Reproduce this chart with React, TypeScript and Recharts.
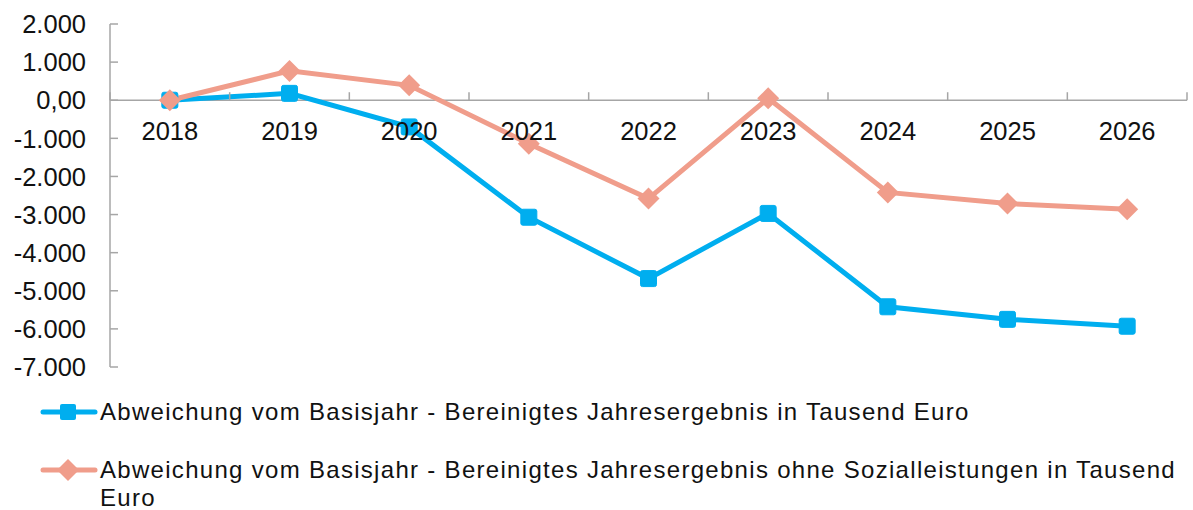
import React from 'react';
import { LineChart, Line, XAxis, YAxis, ReferenceLine } from 'recharts';

const CATEGORIES = ['2018', '2019', '2020', '2021', '2022', '2023', '2024', '2025', '2026'];
const SERIES_A_VALUES = [0, 180, -700, -3070, -4680, -2970, -5420, -5750, -5930];
const SERIES_B_VALUES = [0, 770, 390, -1140, -2580, 50, -2420, -2710, -2860];
const Y_TICKS = [2000, 1000, 0, -1000, -2000, -3000, -4000, -5000, -6000, -7000];
const SERIES_A_NAME = 'Abweichung vom Basisjahr - Bereinigtes Jahresergebnis in Tausend Euro';
const SERIES_B_NAME = 'Abweichung vom Basisjahr - Bereinigtes Jahresergebnis ohne Sozialleistungen in Tausend Euro';

const data = CATEGORIES.map((c, i) => ({ year: c, a: SERIES_A_VALUES[i], b: SERIES_B_VALUES[i] }));

const W = 1193;
const H = 380;
const M = { top: 24, right: 6, left: 0, bottom: 12 };
const Y_AXIS_W = 110;
const X_AXIS_H = 1;
const Y_MIN = -7000;
const Y_MAX = 2000;
const PLOT_TOP = M.top;
const PLOT_H = H - M.top - M.bottom - X_AXIS_H;
const PLOT_W = W - M.left - M.right - Y_AXIS_W;
const ZERO_Y = PLOT_TOP + (PLOT_H * Y_MAX) / (Y_MAX - Y_MIN);
const BAND = PLOT_W / CATEGORIES.length;

const BLUE = '#00AEEF';
const PINK = '#F09D8B';
const GRAY = '#A6A6A6';
const FONT = '"Liberation Sans", Arial, sans-serif';
const TEXT = '#111';

const fmt = (v: number) => {
  if (v === 0) return '0,00';
  const s = Math.abs(v).toString().replace(/\B(?=(\d{3})+(?!\d))/g, '.');
  return (v < 0 ? '-' : '') + s;
};

const Y_TICK_MARGIN = 24;

const YTick = (props: any) => {
  const { x, y, payload } = props;
  const ax = x + Y_TICK_MARGIN;
  return (
    <g>
      <line x1={ax} x2={ax + 8} y1={y} y2={y} stroke={GRAY} strokeWidth={1.5} />
      <text x={x} y={y} dy="0.36em" textAnchor="end" fontSize={25.5} fontFamily={FONT} fill={TEXT}>
        {fmt(payload.value)}
      </text>
    </g>
  );
};

const XTick = (props: any) => {
  const { x, payload, index } = props;
  const left = x - BAND / 2;
  const right = x + BAND / 2;
  return (
    <g>
      <line x1={left} x2={left} y1={ZERO_Y - 8} y2={ZERO_Y} stroke={GRAY} strokeWidth={1.5} />
      {index === CATEGORIES.length - 1 && (
        <line x1={right} x2={right} y1={ZERO_Y - 8} y2={ZERO_Y} stroke={GRAY} strokeWidth={1.5} />
      )}
      <text x={x} y={ZERO_Y + 31} dy="0.36em" textAnchor="middle" fontSize={25.5} fontFamily={FONT} fill={TEXT}>
        {payload.value}
      </text>
    </g>
  );
};

const SquareDot = (props: any) => {
  const { cx, cy } = props;
  if (cx == null || cy == null) return null;
  return <rect x={cx - 8} y={cy - 8} width={16} height={16} rx={2} fill={BLUE} stroke={BLUE} />;
};

const DiamondDot = (props: any) => {
  const { cx, cy } = props;
  if (cx == null || cy == null) return null;
  const r = 11;
  return <polygon points={`${cx},${cy - r} ${cx + r},${cy} ${cx},${cy + r} ${cx - r},${cy}`} fill={PINK} />;
};

const LegendIcon = ({ color, shape }: { color: string; shape: 'square' | 'diamond' }) => (
  <svg width={58} height={28} style={{ position: 'absolute', left: 40, top: 0 }}>
    <line x1={3} x2={55} y1={14} y2={14} stroke={color} strokeWidth={5} strokeLinecap="round" />
    {shape === 'square' ? (
      <rect x={20} y={6} width={16} height={16} rx={2} fill={color} />
    ) : (
      <polygon points="28,3 39,14 28,25 17,14" fill={color} />
    )}
  </svg>
);

const legendItems = [
  { name: SERIES_A_NAME, color: BLUE, shape: 'square' as const },
  { name: SERIES_B_NAME, color: PINK, shape: 'diamond' as const },
];

export default function App() {
  return (
    <div style={{ position: 'absolute', left: 0, top: 0, width: W, height: 510, background: '#fff' }}>
      <LineChart width={W} height={H} data={data} margin={M}>
        <YAxis
          domain={[Y_MIN, Y_MAX]}
          ticks={Y_TICKS}
          width={Y_AXIS_W}
          interval={0}
          axisLine={{ stroke: GRAY, strokeWidth: 1.5 }}
          tickLine={false}
          tickSize={0}
          tickMargin={Y_TICK_MARGIN}
          tick={<YTick />}
          allowDataOverflow
        />
        <ReferenceLine y={0} stroke={GRAY} strokeWidth={1.5} />
        <Line
          dataKey="a"
          stroke={BLUE}
          strokeWidth={5}
          dot={<SquareDot />}
          activeDot={false}
          isAnimationActive={false}
        />
        <Line
          dataKey="b"
          stroke={PINK}
          strokeWidth={5}
          dot={<DiamondDot />}
          activeDot={false}
          isAnimationActive={false}
        />
        <XAxis
          dataKey="year"
          height={X_AXIS_H}
          axisLine={false}
          tickLine={false}
          interval={0}
          padding={{ left: BAND / 2, right: BAND / 2 }}
          tick={<XTick />}
        />
      </LineChart>
      <div style={{ position: 'absolute', left: 0, top: 398, width: W, fontFamily: FONT, fontSize: 24, letterSpacing: '1.3px', color: TEXT, lineHeight: '28px' }}>
        {legendItems.map((it, i) => (
          <div key={i} style={{ position: 'relative', paddingLeft: 100, width: 1085, marginBottom: 30, whiteSpace: 'normal' }}>
            <LegendIcon color={it.color} shape={it.shape} />
            {it.name}
          </div>
        ))}
      </div>
    </div>
  );
}
